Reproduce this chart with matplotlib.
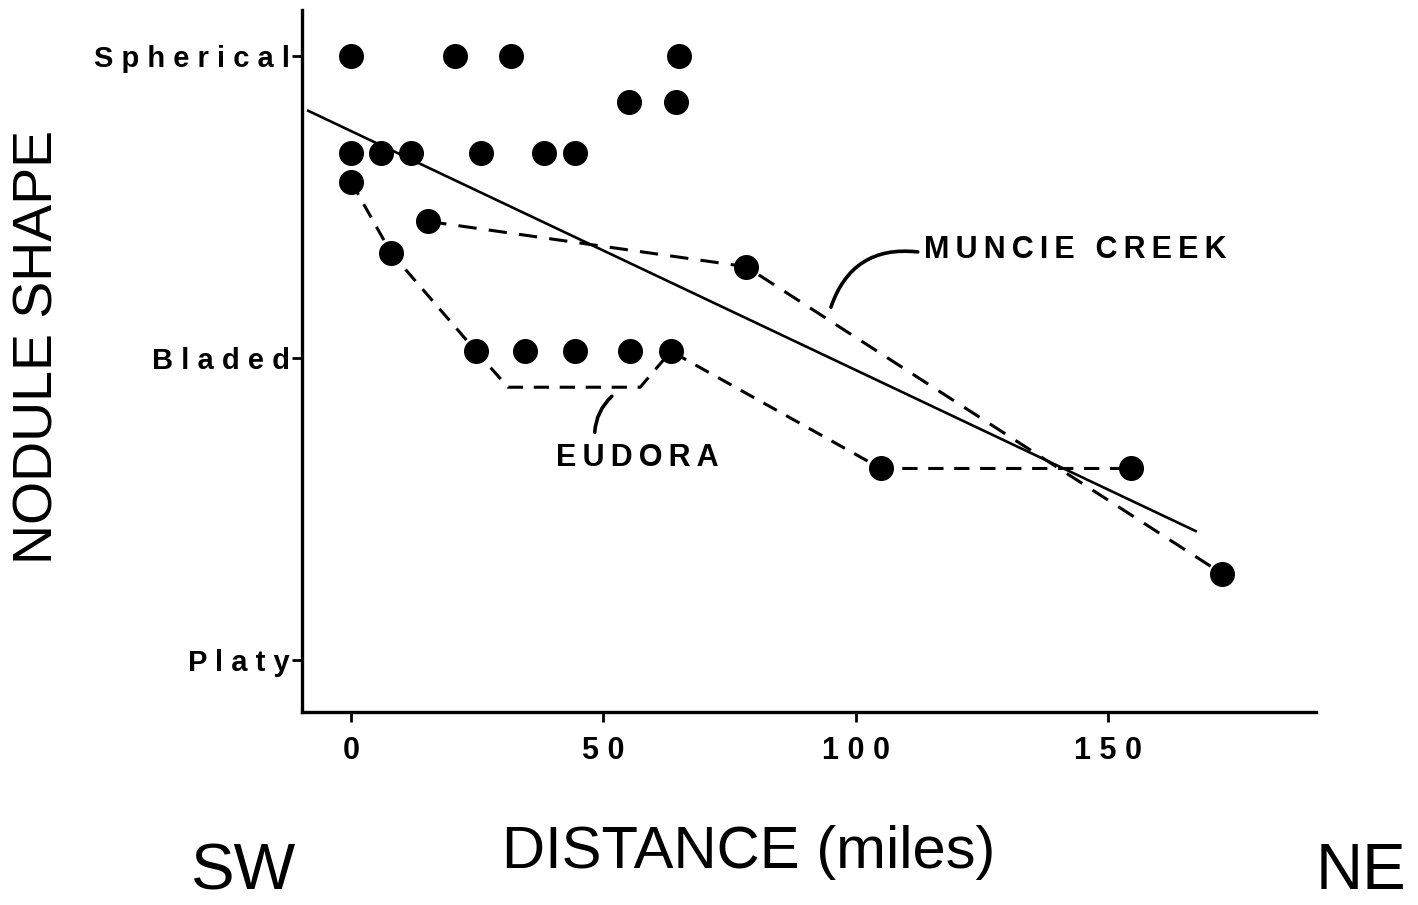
"""
    Nodule shape vs distance, SW -> NE
"""

import matplotlib
matplotlib.use("Agg")
import matplotlib.pyplot as plt

#####################################################################################################

# nodule shape: 0 = Platy, 1 = Bladed, 2 = Spherical
shape_names = ["Platy", "Bladed", "Spherical"]
shape_ticks = [0, 1, 2]
dist_ticks = [0, 50, 100, 150]

pts_x = [0, 20.6, 31.7, 65.0,
         55.1, 64.4,
         0, 5.9, 11.9, 25.8, 38.2, 44.4,
         0, 15.3, 7.9, 78.3,
         24.8, 34.5, 44.4, 55.3, 63.4,
         105.0, 154.5, 172.6]
pts_y = [2.0, 2.0, 2.0, 2.0,
         1.847, 1.847,
         1.678, 1.678, 1.678, 1.678, 1.678, 1.678,
         1.585, 1.453, 1.350, 1.303,
         1.023, 1.023, 1.023, 1.023, 1.023,
         0.635, 0.635, 0.287]

# regression line end points
fit_x = [-8.7, 167.6]
fit_y = [1.821, 0.426]

muncie_x = [15.3, 78.3, 172.6]
muncie_y = [1.453, 1.303, 0.287]

eudora_x = [0, 7.9, 24.8, 31.1, 57.3, 63.4, 105.0, 154.5]
eudora_y = [1.585, 1.350, 1.023, 0.904, 0.904, 1.023, 0.635, 0.635]

#####################################################################################################

THIN = "\u2009"

def spaced(s, gap=" "):
    # crude letter spacing, words kept apart with a normal space
    return (gap + " " + gap).join(gap.join(list(w)) for w in s.split(" "))


def main():
    plt.rcParams["font.family"] = ["Liberation Sans", "DejaVu Sans"]

    fig = plt.figure(figsize=(14.18, 9.05), dpi=100)
    ax = fig.add_axes([0.213, 0.213, 0.715, 0.776])

    ax.plot(fit_x, fit_y, "k-", lw=1.9, solid_capstyle="butt")
    ax.plot(muncie_x, muncie_y, "k--", lw=2.2, dashes=(6, 4))
    ax.plot(eudora_x, eudora_y, "k--", lw=2.2, dashes=(5, 3.5))
    ax.plot(pts_x, pts_y, "ko", ms=17, ls="none", zorder=5)

    # labels with curved leaders
    ax.annotate("", xy=(95.1, 1.169), xytext=(112.3, 1.352),
                arrowprops=dict(arrowstyle="-", lw=2.6, shrinkA=0, shrinkB=0,
                                connectionstyle="arc3,rad=0.4"))
    ax.text(113.5, 1.358, spaced("MUNCIE CREEK", THIN), fontsize=22,
            fontweight="bold", ha="left", va="center")
    ax.annotate("", xy=(48.3, 0.755), xytext=(51.7, 0.874),
                arrowprops=dict(arrowstyle="-", lw=2.6, shrinkA=0, shrinkB=0,
                                connectionstyle="arc3,rad=0.2"))
    ax.text(56.7, 0.670, spaced("EUDORA", THIN), fontsize=22, fontweight="bold",
            ha="center", va="center")

    ax.set_xlim(-9.7, 191.2)
    ax.set_ylim(-0.172, 2.153)

    ax.set_xticks(dist_ticks)
    ax.set_xticklabels([spaced(str(t)) for t in dist_ticks],
                       fontsize=22, fontweight="bold")
    ax.set_yticks(shape_ticks)
    ax.set_yticklabels([spaced(s) for s in shape_names],
                       fontsize=21, fontweight="bold")
    ax.tick_params(axis="x", direction="out", length=7, width=2, pad=10)
    ax.tick_params(axis="y", direction="out", length=7, width=2, pad=2)

    for side in ["top", "right"]:
        ax.spines[side].set_visible(False)
    for side in ["left", "bottom"]:
        ax.spines[side].set_linewidth(2.4)

    fig.text(0.027, 0.617, "NODULE SHAPE", rotation=90, fontsize=40,
             ha="center", va="center")
    fig.text(0.528, 0.058, "DISTANCE (miles)", fontsize=43,
             ha="center", va="center")
    fig.text(0.172, 0.036, "SW", fontsize=47, ha="center", va="center")
    fig.text(0.960, 0.036, "NE", fontsize=47, ha="center", va="center")

    fig.savefig("out.png", dpi=100, facecolor="white")

#####################################################################################################

if __name__ == "__main__":
    main()
